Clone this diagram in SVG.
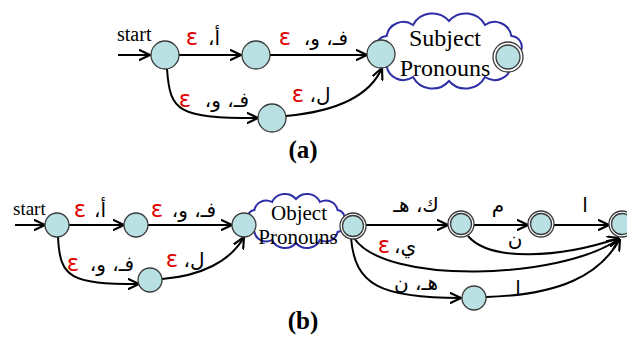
<svg xmlns="http://www.w3.org/2000/svg" width="627" height="337" viewBox="0 0 627 337">
<style>
.st{fill:#b9e0e2;stroke:#3a3a3a;stroke-width:1.3}
.ring{fill:#fff;stroke:#3a3a3a;stroke-width:1.3}
.e{fill:none;stroke:#000;stroke-width:2}
.cloud{fill:#fff;stroke:#2e2ea6;stroke-width:2}
.ar{font-family:"DejaVu Sans",sans-serif;font-size:20px;fill:#000;text-anchor:middle}
.eps{font-family:"DejaVu Sans",sans-serif;font-size:23px;fill:#e00000;text-anchor:middle}
.lbl{font-family:"Liberation Serif",serif;fill:#000}
.cap{font-family:"Liberation Serif",serif;font-weight:bold;font-size:25px;text-anchor:middle}
</style>
<defs>
<marker id="arr" viewBox="0 0 10 10" refX="9.5" refY="5" markerWidth="12" markerHeight="12" markerUnits="userSpaceOnUse" orient="auto">
<path d="M0,0.5 L9.5,5 L0,9.5" fill="none" stroke="#000" stroke-width="1.8" stroke-linejoin="round" stroke-linecap="round"/>
</marker>
</defs>

<!-- clouds -->
<g id="cloudA">
<path class="cloud" d="M521,51 A11,11 0 0 1 511.4,66 A17,17 0 0 1 485,77 A22,22 0 0 1 449,81 A22,22 0 0 1 413,77 A17,17 0 0 1 386.6,66 A11,11 0 0 1 377,51 A11,11 0 0 1 386.6,36 A17,17 0 0 1 413,25 A22,22 0 0 1 449,21 A22,22 0 0 1 485,25 A17,17 0 0 1 511.4,36 A11,11 0 0 1 521,51 Z"/>
<text class="lbl" x="445" y="46" font-size="24" text-anchor="middle">Subject</text>
<text class="lbl" x="445" y="76" font-size="24" text-anchor="middle">Pronouns</text>
</g>
<g id="cloudB">
<path class="cloud" d="M344,221 A8,8 0 0 1 337.6,232 A12,12 0 0 1 320,240 A14.5,14.5 0 0 1 296,243 A14.5,14.5 0 0 1 272,240 A12,12 0 0 1 254.4,232 A8,8 0 0 1 248,221 A8,8 0 0 1 254.4,210 A12,12 0 0 1 272,202 A14.5,14.5 0 0 1 296,199 A14.5,14.5 0 0 1 320,202 A12,12 0 0 1 337.6,210 A8,8 0 0 1 344,221 Z"/>
<text class="lbl" x="299" y="220" font-size="21" text-anchor="middle">Object</text>
<text class="lbl" x="298" y="244" font-size="21" text-anchor="middle">Pronouns</text>
</g>

<!-- connectors -->
<g id="connectors">
<line class="e" x1="118" y1="55" x2="150" y2="55" marker-end="url(#arr)"/>
<line class="e" x1="179" y1="55" x2="241" y2="55" marker-end="url(#arr)"/>
<line class="e" x1="270" y1="55" x2="367" y2="55" marker-end="url(#arr)"/>
<path class="e" d="M167,69 C170,112 178,118 258,118" marker-end="url(#arr)"/>
<path class="e" d="M286,116 C330,112 368,100 382,68" marker-end="url(#arr)"/>

<line class="e" x1="15" y1="225" x2="45" y2="225" marker-end="url(#arr)"/>
<line class="e" x1="69" y1="225" x2="124" y2="225" marker-end="url(#arr)"/>
<line class="e" x1="148" y1="225" x2="232" y2="225" marker-end="url(#arr)"/>
<path class="e" d="M58,237 C60,278 70,284 139,284" marker-end="url(#arr)"/>
<path class="e" d="M162,279 C200,276 230,262 244,237" marker-end="url(#arr)"/>

<line class="e" x1="366" y1="225" x2="448" y2="225" marker-end="url(#arr)"/>
<line class="e" x1="474" y1="225" x2="528" y2="225" marker-end="url(#arr)"/>
<line class="e" x1="554" y1="225" x2="609" y2="225" marker-end="url(#arr)"/>
<path class="e" d="M468,236 C490,262 560,258 619,238" marker-end="url(#arr)"/>
<path class="e" d="M354,238 C385,285 560,280 619,239" marker-end="url(#arr)"/>
<path class="e" d="M351,238 C355,285 380,298 461,298" marker-end="url(#arr)"/>
<path class="e" d="M486,297 C560,295 600,275 620,239" marker-end="url(#arr)"/>
</g>

<!-- labels -->
<g id="labels">
<text class="lbl" x="117" y="41" font-size="20">start</text>
<text class="eps" x="192" y="45">ε</text>
<text class="ar" x="214" y="45" direction="rtl">&#x200F;أ،&#x200F;</text>
<text class="eps" x="285" y="45">ε</text>
<text class="ar" x="326" y="45" direction="rtl">&#x200F;فـ، و،&#x200F;</text>
<text class="eps" x="185" y="107">ε</text>
<text class="ar" x="227" y="107" direction="rtl">&#x200F;فـ، و،&#x200F;</text>
<text class="eps" x="298" y="102">ε</text>
<text class="ar" x="320" y="102" direction="rtl">&#x200F;ل،&#x200F;</text>

<text class="lbl" x="13" y="215" font-size="19">start</text>
<text class="eps" x="80" y="217">ε</text>
<text class="ar" x="100" y="217" direction="rtl">&#x200F;أ،&#x200F;</text>
<text class="eps" x="157" y="217">ε</text>
<text class="ar" x="194" y="217" direction="rtl">&#x200F;فـ، و،&#x200F;</text>
<text class="eps" x="73" y="271">ε</text>
<text class="ar" x="112" y="271" direction="rtl">&#x200F;فـ، و،&#x200F;</text>
<text class="eps" x="172" y="267">ε</text>
<text class="ar" x="194" y="267" direction="rtl">&#x200F;ل،&#x200F;</text>

<text class="ar" x="416" y="212" direction="rtl">&#x200F;ك، هـ&#x200F;</text>
<text class="eps" x="384" y="253">ε</text>
<text class="ar" x="405" y="253" direction="rtl">&#x200F;ي،&#x200F;</text>
<text class="ar" x="416" y="290" direction="rtl">&#x200F;هـ، ن&#x200F;</text>
<text class="ar" x="498" y="212">م</text>
<text class="ar" x="515" y="246">ن</text>
<text class="ar" x="585" y="212">ا</text>
<text class="ar" x="518" y="295">ا</text>
</g>

<!-- nodes (a) -->
<g id="a1"><circle class="st" cx="165" cy="55" r="14"/></g>
<g id="a2"><circle class="st" cx="256" cy="55" r="14"/></g>
<g id="a3"><circle class="st" cx="381" cy="54" r="14"/></g>
<g id="a4"><circle class="st" cx="272" cy="118" r="14"/></g>
<g id="a5"><circle class="ring" cx="508" cy="57" r="15"/><circle class="st" cx="508" cy="57" r="12"/></g>

<!-- nodes (b) -->
<g id="b1"><circle class="st" cx="57" cy="225" r="12"/></g>
<g id="b2"><circle class="st" cx="136" cy="225" r="12"/></g>
<g id="b3"><circle class="st" cx="244" cy="225" r="12"/></g>
<g id="b4"><circle class="st" cx="150" cy="280" r="12"/></g>
<g id="b5"><circle class="ring" cx="353" cy="226" r="13"/><circle class="st" cx="353" cy="226" r="10.5"/></g>
<g id="b6"><circle class="ring" cx="461" cy="224" r="13"/><circle class="st" cx="461" cy="224" r="10.5"/></g>
<g id="b7"><circle class="ring" cx="541" cy="224" r="13"/><circle class="st" cx="541" cy="224" r="10.5"/></g>
<g id="b8"><circle class="ring" cx="622" cy="224" r="13"/><circle class="st" cx="622" cy="224" r="10.5"/></g>
<g id="b9"><circle class="st" cx="474" cy="298" r="12"/></g>

<g id="captions">
<text class="cap" x="303" y="158">(a)</text>
<text class="cap" x="303" y="329">(b)</text>
</g>
</svg>
